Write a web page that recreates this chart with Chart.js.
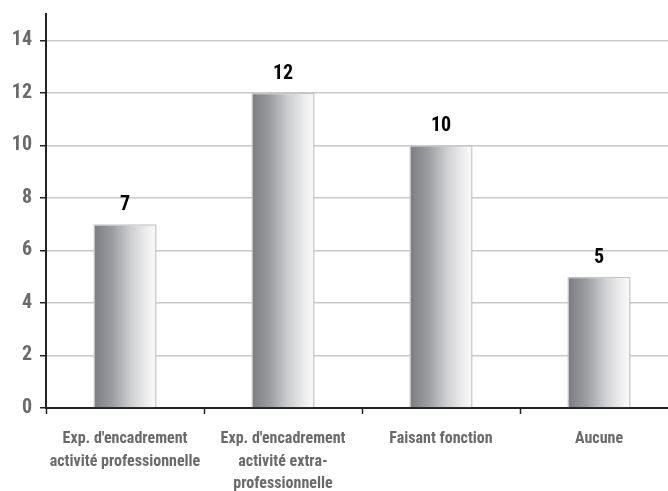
<!DOCTYPE html>
<html>
<head>
<meta charset="utf-8">
<script src="https://cdn.jsdelivr.net/npm/chart.js@4"></script>
<style>
html,body{margin:0;padding:0;background:#fff;overflow:hidden;}
#wrap{position:absolute;left:0;top:0;width:680px;height:491px;}
</style>
</head>
<body>
<div id="wrap"><canvas id="c" width="680" height="491"></canvas></div>
<script>
const categories = [
  ["Exp. d'encadrement", "activité professionnelle"],
  ["Exp. d'encadrement", "activité extra-", "professionnelle"],
  "Faisant fonction",
  "Aucune"
];
const values = [7, 12, 10, 5];
const yTicks = [0, 2, 4, 6, 8, 10, 12, 14];

const FONT = "'Liberation Sans Narrow', 'Arial Narrow', 'Roboto Condensed', 'Liberation Sans', Arial, sans-serif";

const barShading = {
  id: 'barShading',
  beforeDatasetsDraw(chart) {
    const meta = chart.getDatasetMeta(0);
    meta.data.forEach(bar => {
      const w = bar.width;
      if (!isFinite(bar.x) || !isFinite(w)) return;
      const g = chart.ctx.createLinearGradient(bar.x - w / 2, 0, bar.x + w / 2, 0);
      g.addColorStop(0, '#7b7c81');
      g.addColorStop(0.3, '#9c9da1');
      g.addColorStop(0.6, '#cfd0d2');
      g.addColorStop(0.85, '#eeeeef');
      g.addColorStop(1, '#fbfbfb');
      const o = Object.create(bar.options);
      o.backgroundColor = g;
      bar.options = o;
    });
  }
};

const valueLabels = {
  id: 'valueLabels',
  afterDatasetsDraw(chart) {
    const c = chart.ctx;
    const meta = chart.getDatasetMeta(0);
    c.save();
    c.font = "bold 20px " + FONT;
    c.fillStyle = '#000';
    c.textAlign = 'center';
    c.textBaseline = 'alphabetic';
    meta.data.forEach((bar, i) => {
      c.fillText(String(values[i]), bar.x, bar.y - 14);
    });
    c.restore();
  }
};

new Chart(document.getElementById('c'), {
  type: 'bar',
  data: {
    labels: categories,
    datasets: [{
      data: values,
      backgroundColor: '#a0a0a4',
      borderColor: '#c4c4c6',
      borderWidth: 1.5,
      borderSkipped: 'start',
      barPercentage: 0.4,
      categoryPercentage: 1
    }]
  },
  options: {
    responsive: false,
    animation: false,
    layout: { padding: { top: 14, right: 2, left: 0, bottom: 0 } },
    plugins: { legend: { display: false }, tooltip: { enabled: false } },
    scales: {
      x: {
        offset: true,
        grid: {
          offset: true,
          drawOnChartArea: false,
          drawTicks: true,
          tickLength: 6,
          tickColor: '#222',
          tickWidth: 1.5
        },
        border: { color: '#222', width: 2 },
        ticks: {
          color: '#6a6a6a',
          font: { family: FONT, size: 16, weight: 'bold', lineHeight: 1.4 },
          padding: 14,
          maxRotation: 0,
          autoSkip: false
        },
        afterFit(scale) { scale.height = 83; }
      },
      y: {
        min: 0,
        max: 15,
        afterBuildTicks(scale) {
          scale.ticks = yTicks.map(v => ({ value: v }));
        },
        grid: {
          color: '#c8c8c8',
          lineWidth: 1.5,
          tickLength: 6,
          tickColor: '#222',
          tickWidth: 1.5
        },
        border: { color: '#222', width: 2 },
        ticks: {
          color: '#6a6a6a',
          font: { family: FONT, size: 20, weight: 'bold' },
          padding: 8
        },
        afterFit(scale) { scale.width = 46; scale.paddingTop = 0; scale.paddingBottom = 0; }
      }
    }
  },
  plugins: [barShading, valueLabels]
});
</script>
</body>
</html>
